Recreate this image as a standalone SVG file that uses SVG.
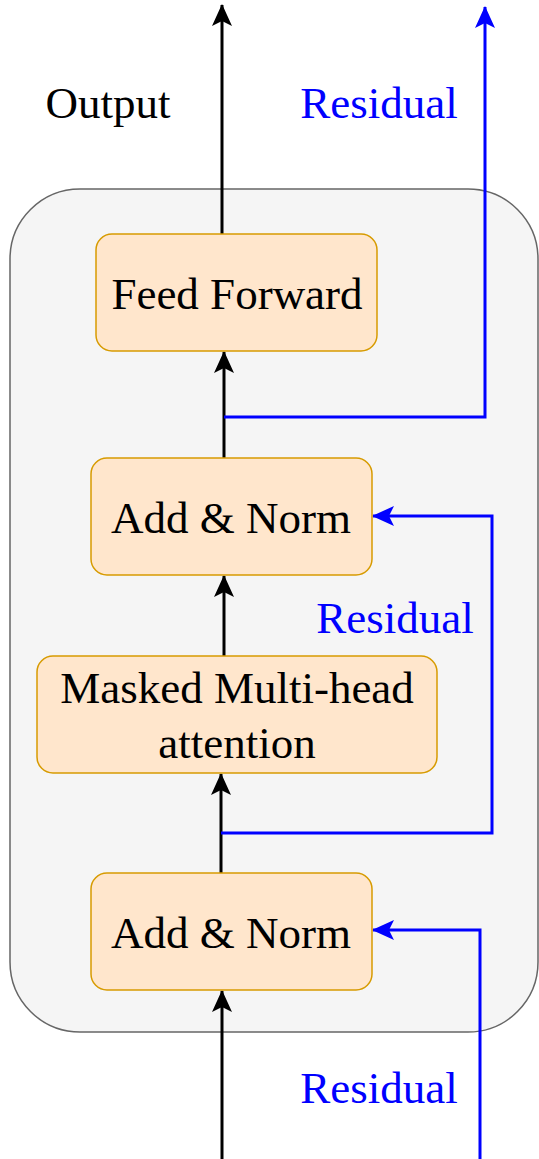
<svg xmlns="http://www.w3.org/2000/svg" width="539" height="1159" viewBox="0 0 539 1159">
<defs>
<style>
.box{fill:#ffe6cc;stroke:#d79b00;stroke-width:1.5}
.t{font-family:"Liberation Serif","Times New Roman",serif;font-size:45px;text-anchor:middle;fill:#000}
.b{fill:#0000ff}
.k{fill:none;stroke:#000;stroke-width:3}
.bl{fill:none;stroke:#0000ff;stroke-width:3}
</style>
<marker id="ak" viewBox="0 0 22 20" refX="21" refY="10" markerWidth="22" markerHeight="20" markerUnits="userSpaceOnUse" orient="auto">
<path d="M0,0 L22,10 L0,20 L5,10 Z" fill="#000"/>
</marker>
<marker id="ab" viewBox="0 0 22 20" refX="21" refY="10" markerWidth="22" markerHeight="20" markerUnits="userSpaceOnUse" orient="auto">
<path d="M0,0 L22,10 L0,20 L5,10 Z" fill="#0000ff"/>
</marker>
</defs>
<rect width="539" height="1159" fill="#fff"/>
<g id="container">
<rect x="10" y="189" width="528" height="843" rx="70" fill="#f5f5f5" stroke="#666666" stroke-width="1.5"/>
</g>
<g id="connectors">
<path class="k" d="M222,1159 L222,991" marker-end="url(#ak)"/>
<path class="k" d="M221,873 L221,774" marker-end="url(#ak)"/>
<path class="k" d="M224,656 L224,576" marker-end="url(#ak)"/>
<path class="k" d="M224,458 L224,352" marker-end="url(#ak)"/>
<path class="k" d="M222,234 L222,5" marker-end="url(#ak)"/>
<path class="bl" d="M480,1159 L480,930 L373,930" marker-end="url(#ab)"/>
<path class="bl" d="M221,833 L492,833 L492,516 L373,516" marker-end="url(#ab)"/>
<path class="bl" d="M224,417 L485,417 L485,7" marker-end="url(#ab)"/>
</g>
<g id="feed-forward">
<rect class="box" x="96" y="234" width="281" height="117" rx="16"/>
<text class="t" x="237" y="309">Feed Forward</text>
</g>
<g id="add-norm-upper">
<rect class="box" x="91" y="458" width="281" height="117" rx="16"/>
<text class="t" x="231" y="533">Add &amp; Norm</text>
</g>
<g id="masked-attention">
<rect class="box" x="37" y="656" width="400" height="117" rx="16"/>
<text class="t" x="237" y="703">Masked Multi-head</text>
<text class="t" x="237" y="758">attention</text>
</g>
<g id="add-norm-lower">
<rect class="box" x="91" y="873" width="281" height="117" rx="16"/>
<text class="t" x="231" y="948">Add &amp; Norm</text>
</g>
<g id="labels">
<text class="t" x="108" y="118">Output</text>
<text class="t b" x="379" y="118">Residual</text>
<text class="t b" x="395" y="633">Residual</text>
<text class="t b" x="379" y="1103">Residual</text>
</g>
</svg>
